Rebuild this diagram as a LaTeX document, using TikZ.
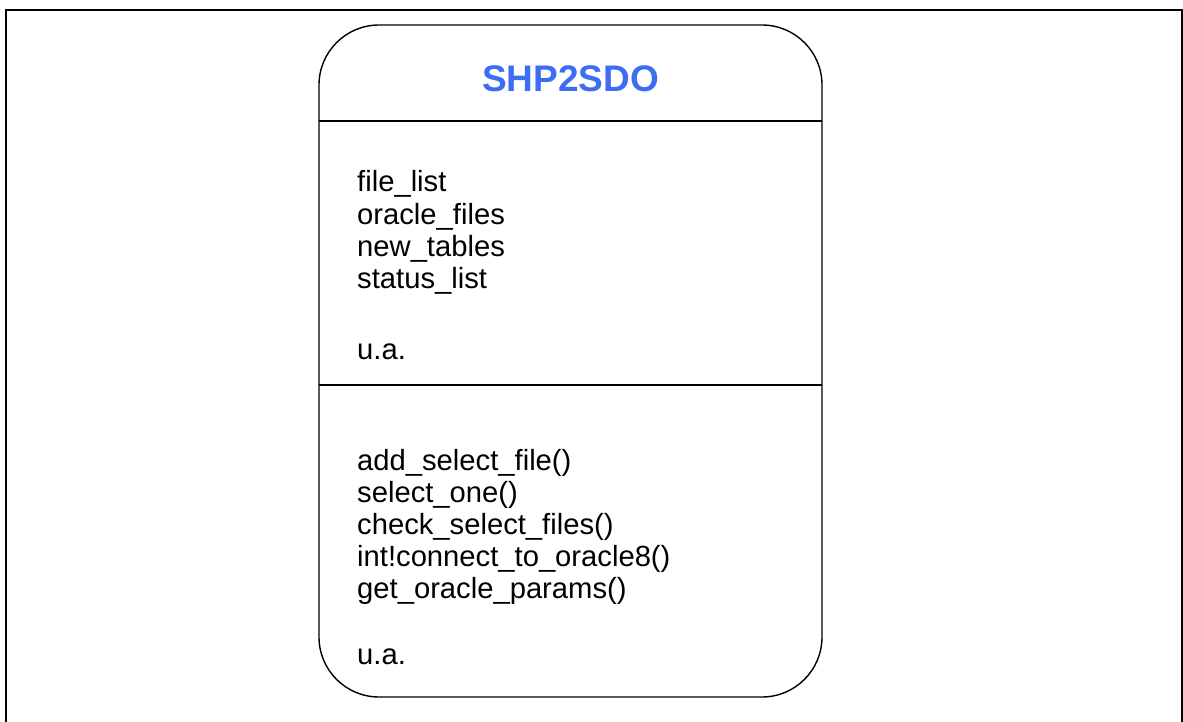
\documentclass[tikz,border=0pt]{standalone}
\usepackage{fontspec}
\setmainfont{Liberation Sans}
\definecolor{titleblue}{RGB}{61,108,245}
\begin{document}
\begin{tikzpicture}[x=1pt,y=-1pt,
  frame/.style={draw=black, line width=2.2pt},
  classbox/.style={draw=black, line width=1.4pt, rounded corners=60pt,
    minimum width=503pt, minimum height=672pt, inner sep=0pt},
  divider/.style={draw=black, line width=1.4pt},
  classtitle/.style={inner sep=0pt, anchor=center, text=titleblue,
    font=\fontsize{37}{42}\selectfont\bfseries},
  member/.style={inner sep=0pt, anchor=base west,
    font=\fontsize{29.2}{33.6}\selectfont}]
  \useasboundingbox (0,0) rectangle (1183,722);
  % outer page frame (its bottom edge runs past the page)
  \draw[frame] (6,740) -- (6,10) -- (1182,10) -- (1182,740);
  % class box
  \node[classbox] (cls) at (570.5,361) {};
  \coordinate (d1w) at (319,121);
  \coordinate (d1e) at (822,121);
  \coordinate (d2w) at (319,385);
  \coordinate (d2e) at (822,385);
  \draw[divider] (d1w) -- (d1e);
  \draw[divider] (d2w) -- (d2e);
  % class name
  \node[classtitle] (name) at (570.5,79) {SHP2SDO};
  % attributes
  \node[member] (a1) at (357,191.7) {file\_list};
  \node[member] (a2) at (357,224.3) {oracle\_files};
  \node[member] (a3) at (357,256.7) {new\_tables};
  \node[member] (a4) at (357,288.3) {status\_list};
  \node[member] (a5) at (357,359) {u.a.};
  % operations
  \node[member] (m1) at (357,470) {add\_select\_file()};
  \node[member] (m2) at (357,502.7) {select\_one()};
  \node[member] (m3) at (357,534.5) {check\_select\_files()};
  \node[member] (m4) at (357,566.7) {int!connect\_to\_oracle8()};
  \node[member] (m5) at (357,598.5) {get\_oracle\_params()};
  \node[member] (m6) at (357,664) {u.a.};
\end{tikzpicture}
\end{document}
